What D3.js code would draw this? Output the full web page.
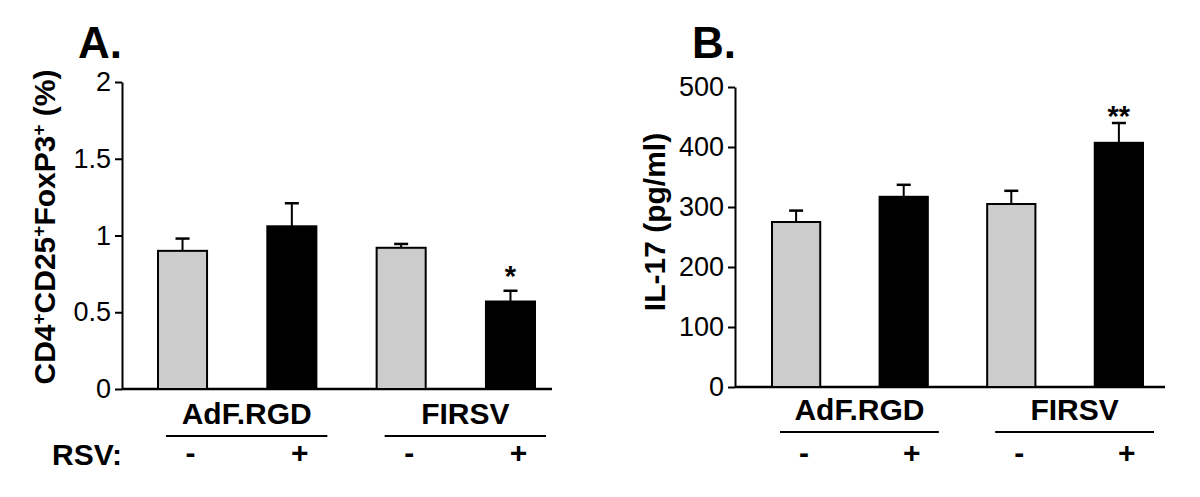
<!DOCTYPE html>
<html lang="en">
<head>
<meta charset="utf-8">
<title>Treg and IL-17</title>
<script src="https://cdn.jsdelivr.net/npm/d3@7"></script>
<style>
  body { margin: 0; background: #fff; }
  svg text { font-family: "Liberation Sans", Arial, sans-serif; fill: #000; }
  .axis path, .axis line { stroke: #000; stroke-width: 2; }
  .axis text { font-size: 27px; }
</style>
</head>
<body>
<script>
// data
var groupNames = ["AdF.RGD", "FIRSV"];
var rsvSigns = ["-", "+", "-", "+"];
var barFills = ["#cccccc", "#000000", "#cccccc", "#000000"];

var tregMean = [0.90, 1.06, 0.92, 0.57];
var tregSem = [0.08, 0.15, 0.025, 0.07];
var tregTicks = [0, 0.5, 1, 1.5, 2];
var tregMarks = ["", "", "", "*"];

var il17Mean = [275, 317, 305, 407];
var il17Sem = [19, 20, 22, 33];
var il17Ticks = [0, 100, 200, 300, 400, 500];
var il17Marks = ["", "", "", "**"];

var svg = d3.select("body").append("svg")
    .attr("width", 1200)
    .attr("height", 497);

function drawPanel(p) {
    var g = svg.append("g");

    var y = d3.scaleLinear().domain(p.domain).range([p.y0, p.y1]);
    var x = d3.scaleBand().domain(d3.range(p.means.length))
        .range(p.barRange).paddingInner(0.533).paddingOuter(0);
    var bw = x.bandwidth();

    // y axis
    var yAxis = d3.axisLeft(y).tickValues(p.ticks)
        .tickFormat(function(d) { return d; })
        .tickSize(7).tickSizeOuter(0).tickPadding(4);
    g.append("g").attr("class", "axis")
        .attr("transform", "translate(" + p.axisX + ",0)")
        .call(yAxis);

    // x axis line
    g.append("line")
        .attr("x1", p.axisX).attr("x2", p.axisEnd)
        .attr("y1", y(0)).attr("y2", y(0))
        .attr("stroke", "#000").attr("stroke-width", 2.5);

    // error bars (upper only)
    var eb = g.selectAll(".err").data(p.means).enter().append("g");
    eb.append("line")
        .attr("x1", function(d, i) { return x(i) + bw / 2; })
        .attr("x2", function(d, i) { return x(i) + bw / 2; })
        .attr("y1", function(d) { return y(d); })
        .attr("y2", function(d, i) { return y(d + p.sem[i]); })
        .attr("stroke", "#000").attr("stroke-width", 2);
    eb.append("line")
        .attr("x1", function(d, i) { return x(i) + bw / 2 - 7; })
        .attr("x2", function(d, i) { return x(i) + bw / 2 + 7; })
        .attr("y1", function(d, i) { return y(d + p.sem[i]); })
        .attr("y2", function(d, i) { return y(d + p.sem[i]); })
        .attr("stroke", "#000").attr("stroke-width", 2.5);

    // bars
    g.selectAll("rect").data(p.means).enter().append("rect")
        .attr("x", function(d, i) { return x(i) + 1; })
        .attr("width", bw - 2)
        .attr("y", function(d) { return y(d); })
        .attr("height", function(d) { return y(0) - y(d); })
        .attr("fill", function(d, i) { return barFills[i]; })
        .attr("stroke", "#000").attr("stroke-width", 2);

    // significance marks
    g.selectAll(".sig").data(p.means).enter().append("text")
        .attr("x", function(d, i) { return x(i) + bw / 2; })
        .attr("y", function(d, i) { return y(d + p.sem[i]) - p.sigOffset; })
        .attr("text-anchor", "middle")
        .style("font-size", "29px").style("font-weight", "bold")
        .text(function(d, i) { return p.marks[i]; });

    // group labels + underlines
    groupNames.forEach(function(name, k) {
        var a = x(2 * k) + 9, b = x(2 * k + 1) + bw + 10;
        g.append("line")
            .attr("x1", a).attr("x2", b)
            .attr("y1", p.lineY).attr("y2", p.lineY)
            .attr("stroke", "#000").attr("stroke-width", 2);
        g.append("text")
            .attr("x", (a + b) / 2).attr("y", p.lineY - 12)
            .attr("text-anchor", "middle")
            .style("font-size", "30px").style("font-weight", "bold")
            .text(name);
    });

    // RSV signs
    g.selectAll(".sign").data(rsvSigns).enter().append("text")
        .attr("x", function(d, i) { return x(i) + bw / 2 + 8; })
        .attr("y", 463)
        .attr("text-anchor", "middle")
        .style("font-size", "30px").style("font-weight", "bold")
        .text(function(d) { return d; });

    // y label
    var yl = g.append("text")
        .attr("transform", "translate(" + p.labelX + "," + p.labelY + ") rotate(-90)")
        .attr("text-anchor", "middle")
        .style("font-size", "30px").style("font-weight", "bold");
    p.label.forEach(function(part) {
        yl.append("tspan")
            .attr("baseline-shift", part.sup ? "super" : null)
            .style("font-size", part.sup ? "19px" : null)
            .text(part.t);
    });

    // panel letter
    g.append("text")
        .attr("x", p.letterX).attr("y", 58)
        .style("font-size", "44px").style("font-weight", "bold")
        .text(p.letter);
}

drawPanel({
    letter: "A.", letterX: 78,
    means: tregMean, sem: tregSem, ticks: tregTicks, marks: tregMarks,
    domain: [0, 2], y0: 389, y1: 82,
    axisX: 122, axisEnd: 552, barRange: [157, 536],
    sigOffset: 5, lineY: 436,
    labelX: 55, labelY: 227,
    label: [{t: "CD4"}, {t: "+", sup: true}, {t: "CD25"}, {t: "+", sup: true},
            {t: "FoxP3"}, {t: "+", sup: true}, {t: " (%)"}]
});

drawPanel({
    letter: "B.", letterX: 692,
    means: il17Mean, sem: il17Sem, ticks: il17Ticks, marks: il17Marks,
    domain: [0, 500], y0: 387, y1: 87,
    axisX: 735, axisEnd: 1165, barRange: [771, 1144],
    sigOffset: -3, lineY: 432,
    labelX: 665, labelY: 222,
    label: [{t: "IL-17 (pg/ml)"}]
});

// RSV row label
svg.append("text")
    .attr("x", 52).attr("y", 465)
    .style("font-size", "30px").style("font-weight", "bold")
    .text("RSV:");
</script>
</body>
</html>
